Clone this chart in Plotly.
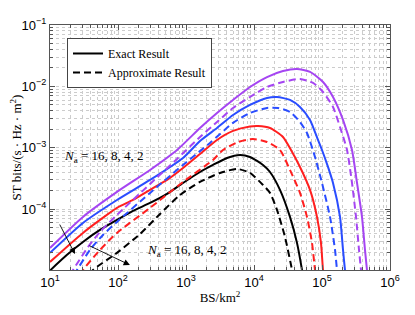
import plotly.graph_objects as go
import math

# ---------------- data ----------------
x_tick_vals = [1e1, 1e2, 1e3, 1e4, 1e5, 1e6]
x_tick_text = ["10<sup>1</sup>", "10<sup>2</sup>", "10<sup>3</sup>", "10<sup>4</sup>", "10<sup>5</sup>", "10<sup>6</sup>"]
y_tick_vals = [1e-4, 1e-3, 1e-2, 1e-1]
y_tick_text = ["10<sup>−4</sup>", "10<sup>−3</sup>", "10<sup>−2</sup>", "10<sup>−1</sup>"]

# Exact result (solid), N_a = 16
exact16_x = [10, 30.5, 96.6, 296, 738, 1606, 2858, 4914, 8730, 15530, 26680, 42870, 66650,
             103500, 145200, 203700, 276200, 327300, 387300, 428600, 458700, 470000]
exact16_y = [2.33e-5, 7.47e-5, 1.91e-4, 4.35e-4, 9.20e-4, 2.10e-3, 3.69e-3, 6.01e-3, 9.77e-3,
             1.42e-2, 1.78e-2, 1.92e-2, 1.72e-2, 1.18e-2, 6.72e-3, 2.84e-3, 9.20e-4, 2.67e-4,
             7.47e-5, 2.17e-5, 1.02e-5, 8e-6]
# N_a = 8
exact8_x = [10, 30.5, 96.6, 296, 903, 1606, 2858, 4914, 8730, 15530, 21780, 33820, 47460, 66650,
            87300, 100000, 122500, 145200, 184000, 203700, 217900, 225000]
exact8_y = [1.94e-5, 5.96e-5, 1.41e-4, 2.99e-4, 6.82e-4, 1.29e-3, 2.10e-3, 3.42e-3, 4.98e-3,
            6.47e-3, 6.72e-3, 6.01e-3, 4.62e-3, 2.84e-3, 1.34e-3, 9.20e-4, 4.87e-4, 2.67e-4,
            7.47e-5, 2.17e-5, 1.02e-5, 8e-6]
# N_a = 4
exact4_x = [10, 30.5, 96.6, 166, 296, 526, 903, 1606, 2858, 4914, 8730, 11450, 17180, 26680,
            35000, 47460, 66650, 84400, 96600, 103500, 107000]
exact4_y = [1.38e-5, 4.10e-5, 1.05e-4, 1.41e-4, 2.06e-4, 2.99e-4, 4.69e-4, 7.92e-4, 1.34e-3,
            1.88e-3, 2.22e-3, 2.26e-3, 2.10e-3, 1.50e-3, 9.20e-4, 4.87e-4, 2.06e-4, 7.47e-5,
            2.82e-5, 1.02e-5, 8e-6]
# N_a = 2
exact2_x = [10, 17.8, 30.5, 54.3, 96.6, 166, 296, 526, 903, 1606, 2495, 4009, 6223, 8730,
            13560, 17180, 24100, 33820, 42870, 50800, 52500]
exact2_y = [1.0e-5, 1.80e-5, 2.92e-5, 4.58e-5, 6.67e-5, 9.35e-5, 1.26e-4, 1.77e-4, 2.67e-4,
            4.03e-4, 5.25e-4, 6.82e-4, 7.63e-4, 7.08e-4, 5.25e-4, 4.03e-4, 2.06e-4, 7.47e-5,
            2.82e-5, 1.02e-5, 8e-6]

# Approximate result (dashed)
approx16_x = [19.7, 21.8, 36.2, 54.3, 96.6, 296, 738, 1606, 2858, 4914, 8730, 15530, 26680,
              47460, 73800, 103500, 145200, 184000, 233300, 276200, 316200, 350100, 374800, 387000]
approx16_y = [8.5e-6, 1.02e-5, 2.42e-5, 4.25e-5, 8.05e-5, 2.57e-4, 6.57e-4, 1.50e-3, 2.63e-3,
              4.45e-3, 6.72e-3, 9.77e-3, 1.18e-2, 1.32e-2, 1.14e-2, 8.10e-3, 4.62e-3, 2.18e-3,
              9.20e-4, 2.67e-4, 7.47e-5, 2.17e-5, 1.02e-5, 8e-6]
approx8_x = [22.5, 24.9, 38.7, 60.1, 96.6, 296, 903, 2254, 4914, 8730, 15530, 22540, 33820,
             47460, 60150, 78900, 100000, 131200, 155400, 166300, 172000]
approx8_y = [8.5e-6, 1.02e-5, 2.17e-5, 3.80e-5, 6.19e-5, 1.84e-4, 5.25e-4, 1.20e-3, 2.54e-3,
             3.69e-3, 4.45e-3, 4.45e-3, 3.83e-3, 2.63e-3, 1.74e-3, 7.08e-4, 2.67e-4, 7.47e-5,
             2.17e-5, 1.02e-5, 8e-6]
approx4_x = [27.6, 30.5, 54.3, 96.6, 296, 903, 2495, 3500, 5820, 9660, 15530, 24100, 33820,
             47460, 60150, 71280, 78900, 81200]
approx4_y = [8.5e-6, 1.02e-5, 2.17e-5, 4.10e-5, 1.05e-4, 2.77e-4, 6.33e-4, 9.20e-4, 1.24e-3,
             1.39e-3, 1.24e-3, 9.20e-4, 4.35e-4, 1.84e-4, 7.47e-5, 2.82e-5, 1.02e-5, 8e-6]
approx2_x = [38.7, 42.9, 96.6, 211, 415, 816, 1606, 3162, 5623, 8730, 13560, 17180, 21780,
             28560, 36230, 37500]
approx2_y = [8.5e-6, 1.02e-5, 1.94e-5, 3.94e-5, 8.36e-5, 1.70e-4, 2.77e-4, 3.89e-4, 4.52e-4,
             3.89e-4, 2.48e-4, 1.84e-4, 9.71e-5, 3.52e-5, 1.02e-5, 8e-6]

colors = {"16": "#a545f2", "8": "#2a4dff", "4": "#ff1f1f", "2": "#000000"}

exact = [("16", exact16_x, exact16_y), ("8", exact8_x, exact8_y),
         ("4", exact4_x, exact4_y), ("2", exact2_x, exact2_y)]
approx = [("16", approx16_x, approx16_y), ("8", approx8_x, approx8_y),
          ("4", approx4_x, approx4_y), ("2", approx2_x, approx2_y)]

SERIF = "Liberation Serif"
SANS = "Liberation Sans"

fig = go.Figure()
for na, xs, ys in exact:
    fig.add_trace(go.Scatter(
        x=xs, y=ys, mode="lines",
        line=dict(color=colors[na], width=2, shape="spline", smoothing=0.6),
        name="Exact Result", showlegend=(na == "2"), legendrank=1))
for na, xs, ys in approx:
    fig.add_trace(go.Scatter(
        x=xs, y=ys, mode="lines",
        line=dict(color=colors[na], width=2, dash="7px,4px", shape="spline", smoothing=0.6),
        name="Approximate Result", showlegend=(na == "2"), legendrank=2))

grid_col = "#cccccc"
axis_common = dict(
    type="log", showline=True, linecolor="#555555", linewidth=1, mirror="allticks",
    ticks="inside", ticklen=5, tickcolor="#555555",
    showgrid=True, gridcolor=grid_col, griddash="dot", gridwidth=1,
    zeroline=False, tickmode="array", automargin=False,
    tickfont=dict(family=SANS, size=13, color="#000000"),
    minor=dict(ticks="inside", ticklen=3, tickcolor="#555555", dtick="D1",
               showgrid=True, gridcolor=grid_col, griddash="dot", gridwidth=1),
)

fig.update_xaxes(**axis_common, range=[1, 6], tickvals=x_tick_vals, ticktext=x_tick_text,
                 title=dict(text="BS/km<sup>2</sup>", font=dict(family=SERIF, size=13, color="#000"),
                            standoff=4))
fig.update_yaxes(**axis_common, range=[math.log10(1.02e-5), -1], tickvals=y_tick_vals,
                 ticktext=y_tick_text,
                 title=dict(text="ST bits/(s · Hz · m<sup>2</sup>)",
                            font=dict(family=SERIF, size=13, color="#000"), standoff=7))

annot_font = dict(family=SERIF, size=13, color="#000")
fig.add_annotation(xref="paper", yref="paper", x=0.035, y=0.465, xanchor="left", yanchor="middle",
                   text="<i>N</i><sub>a</sub> = 16, 8, 4, 2", showarrow=False, font=annot_font)
fig.add_annotation(xref="paper", yref="paper", x=0.279, y=0.078, xanchor="left", yanchor="middle",
                   text="<i>N</i><sub>a</sub> = 16, 8, 4, 2", showarrow=False, font=annot_font)
fig.add_annotation(xref="paper", yref="paper", x=0.0735, y=0.065, text="", showarrow=True,
                   arrowhead=2, arrowsize=1.4, arrowwidth=0.9, arrowcolor="#000",
                   ax=-16, ay=-31, standoff=0)
fig.add_annotation(xref="paper", yref="paper", x=0.235, y=0.0204, text="", showarrow=True,
                   arrowhead=2, arrowsize=1.4, arrowwidth=0.9, arrowcolor="#000",
                   ax=-42, ay=-20, standoff=0)

# the page body adds an 8px margin, so the figure is 8px smaller and its margins 8px tighter
fig.update_layout(
    width=407, height=307,
    margin=dict(l=42, r=25, t=17, b=45, autoexpand=False),
    paper_bgcolor="white", plot_bgcolor="white",
    showlegend=True,
    legend=dict(x=0.05, y=0.947, xanchor="left", yanchor="top",
                bgcolor="white", bordercolor="#444444", borderwidth=1,
                font=dict(family=SERIF, size=12, color="#000"),
                tracegroupgap=0, itemwidth=30),
)

fig.write_html("out.html")
